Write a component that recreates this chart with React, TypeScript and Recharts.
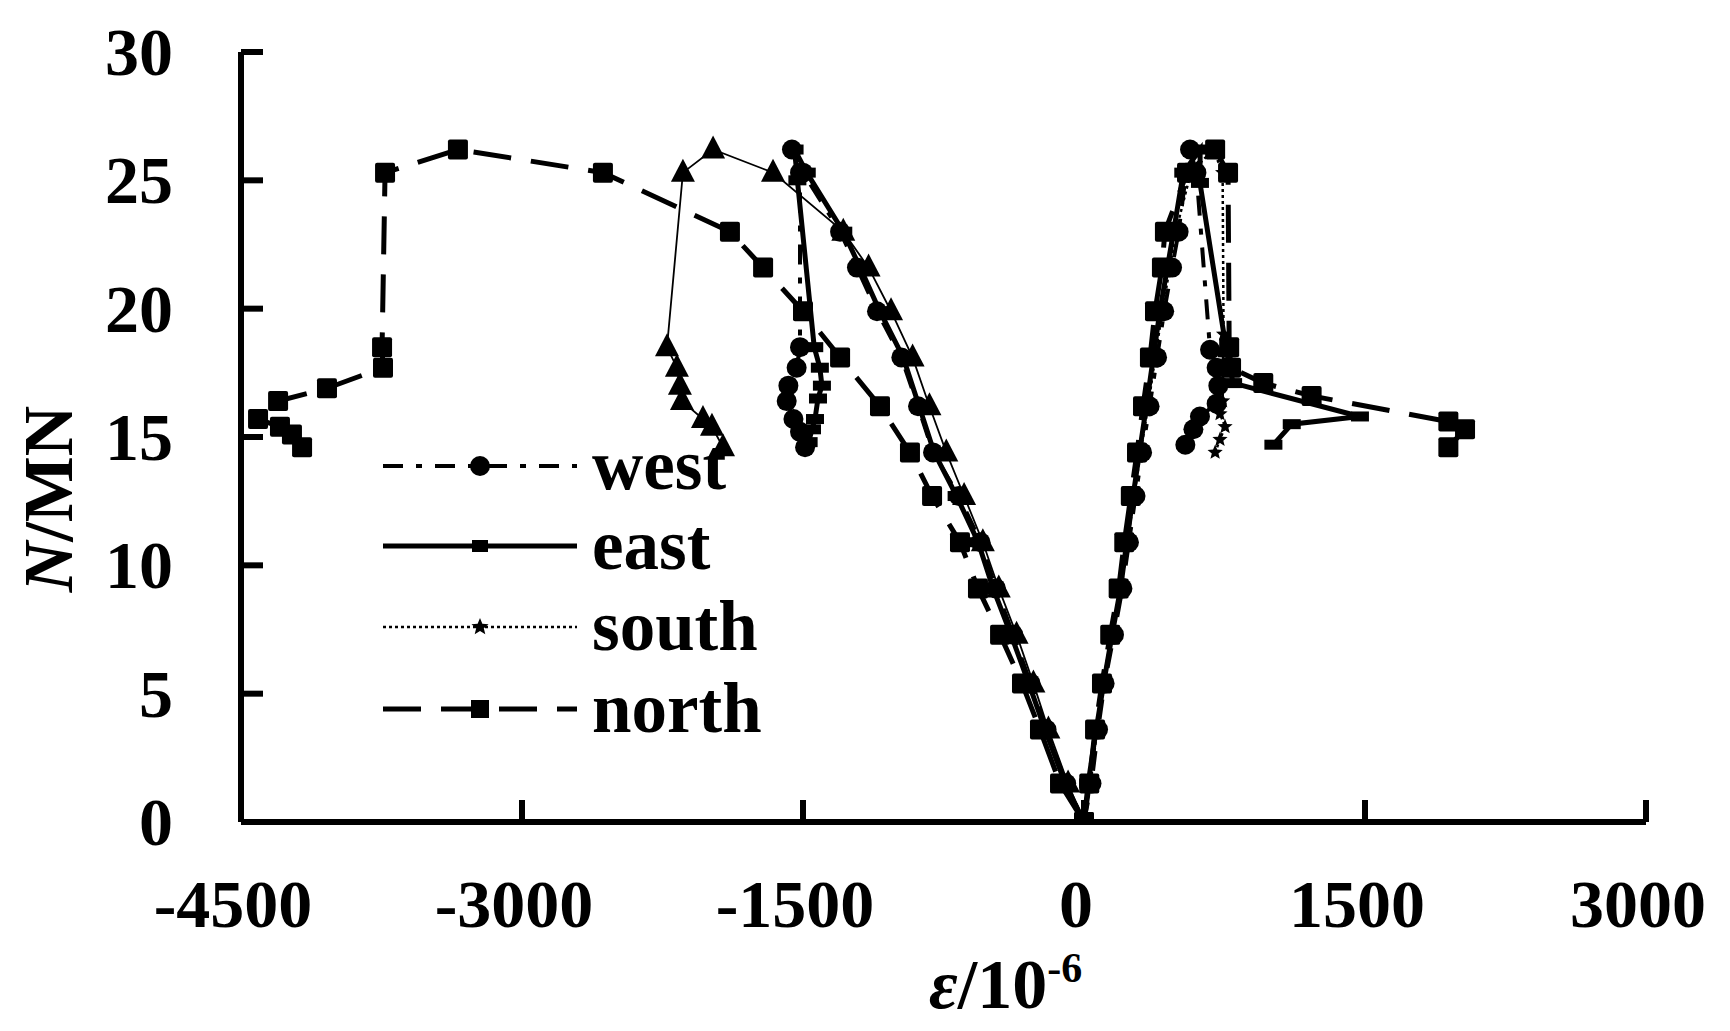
import React from 'react';
import { ScatterChart, Scatter, XAxis, YAxis } from 'recharts';

// ---------- data (N in MN, strain in 10^-6) ----------
const X_TICKS = [-4500, -3000, -1500, 0, 1500, 3000];
const Y_TICKS = [0, 5, 10, 15, 20, 25, 30];

const LOAD_PRE = [0, 1.5, 3.6, 5.4, 7.3, 9.1, 10.9, 12.7, 14.4, 16.2, 18.1, 19.9, 21.6, 23.0, 25.3, 26.2];

// left branch (compressive strain)
const northLeftPre = [0, -128, -235, -331, -448, -566, -662, -811, -929, -1089, -1302, -1500, -1713, -1890, -2568, -3342];
const northLeftPostLoad = [25.3, 18.5, 17.7, 16.9, 16.4, 15.7, 15.4, 15.1, 14.6];
const northLeftPost = [-3731, -3747, -3742, -4041, -4302, -4409, -4292, -4228, -4174];

const westLeftPre = [0, -95, -200, -285, -378, -470, -552, -668, -806, -886, -975, -1105, -1212, -1302, -1500, -1559];
const westLeftPostLoad = [25.3, 18.5, 17.7, 17.0, 16.4, 15.7, 15.2, 14.6];
const westLeftPost = [-1516, -1516, -1534, -1578, -1587, -1551, -1516, -1489];

const eastLeftPre = [0, -100, -208, -295, -390, -485, -565, -680, -800, -880, -965, -1090, -1195, -1285, -1480, -1545];
const eastLeftPostLoad = [25.0, 18.5, 17.7, 17.0, 16.5, 15.7, 15.3, 14.8];
const eastLeftPost = [-1530, -1440, -1410, -1399, -1420, -1436, -1452, -1470];

const southLeftPre = [0, -85, -190, -270, -360, -455, -540, -640, -735, -825, -915, -1030, -1150, -1285, -1660, -1980];
const southLeftPostLoad = [25.3, 18.5, 17.7, 17.0, 16.4, 15.7, 15.4, 14.6];
const southLeftPost = [-2141, -2226, -2173, -2157, -2146, -2034, -1986, -1927];

// right branch (tensile strain)
const northRightPre = [0, 28, 59, 96, 140, 185, 215, 250, 283, 315, 352, 379, 416, 432, 550, 700];
const northRightPostLoad = [25.3, 18.5, 17.7, 17.1, 16.6, 15.6, 15.3, 14.6];
const northRightPost = [769, 775, 785, 957, 1215, 1945, 2034, 1945];

const westRightPre = [0, 40, 75, 110, 160, 205, 240, 275, 310, 350, 390, 428, 470, 505, 545, 566];
const westRightPostLoad = [25.3, 18.4, 17.7, 17.0, 16.3, 15.8, 15.3, 14.7];
const westRightPost = [600, 673, 708, 717, 708, 619, 584, 541];

const eastRightPre = [0, 22, 65, 105, 150, 195, 228, 262, 296, 333, 370, 405, 445, 478, 530, 620];
const eastRightPostLoad = [24.9, 18.3, 17.1, 15.8, 15.5, 14.7];
const eastRightPost = [619, 762, 796, 1473, 1109, 1011];

const southRightPre = [0, 35, 70, 100, 148, 200, 232, 268, 302, 342, 380, 418, 458, 490, 570, 690];
const southRightPostLoad = [25.3, 19.0, 16.4, 15.9, 15.4, 14.9, 14.4];
const southRightPost = [740, 745, 740, 726, 753, 726, 700];

const build = (pre: number[], postLoad: number[], post: number[]) => [
  ...LOAD_PRE.map((y, i) => ({ x: pre[i], y })),
  ...postLoad.map((y, i) => ({ x: post[i], y })),
];

const northLeft = build(northLeftPre, northLeftPostLoad, northLeftPost);
const westLeft = build(westLeftPre, westLeftPostLoad, westLeftPost);
const eastLeft = build(eastLeftPre, eastLeftPostLoad, eastLeftPost);
const southLeft = build(southLeftPre, southLeftPostLoad, southLeftPost);
const northRight = build(northRightPre, northRightPostLoad, northRightPost);
const westRight = build(westRightPre, westRightPostLoad, westRightPost);
const eastRight = build(eastRightPre, eastRightPostLoad, eastRightPost);
const southRight = build(southRightPre, southRightPostLoad, southRightPost);

// ---------- styles ----------
const FONT = "'Liberation Serif', 'Times New Roman', serif";
const FS = 68;

const NORTH_LINE = { stroke: '#000', strokeWidth: 5, strokeDasharray: '38 20' };
const WEST_LINE = { stroke: '#000', strokeWidth: 4, strokeDasharray: '20 13 6 13' };
const EAST_LINE = { stroke: '#000', strokeWidth: 5 };
const SOUTH_LEFT_LINE = { stroke: '#000', strokeWidth: 1.8 };
const SOUTH_RIGHT_LINE = { stroke: '#000', strokeWidth: 2.5, strokeDasharray: '3 3' };

// ---------- marker shapes ----------
const squareShape = (props: any) => {
  const { cx, cy } = props;
  if (cx == null || cy == null) return <g />;
  return <rect x={cx - 10} y={cy - 10} width={20} height={20} rx={2} fill="#000" />;
};
const circleShape = (props: any) => {
  const { cx, cy } = props;
  if (cx == null || cy == null) return <g />;
  return <circle cx={cx} cy={cy} r={10} fill="#000" />;
};
const barShape = (props: any) => {
  const { cx, cy } = props;
  if (cx == null || cy == null) return <g />;
  return <rect x={cx - 9} y={cy - 5} width={18} height={10} fill="#000" />;
};
const triangleShape = (props: any) => {
  const { cx, cy } = props;
  if (cx == null || cy == null) return <g />;
  return <polygon points={`${cx},${cy - 14} ${cx + 12},${cy + 9} ${cx - 12},${cy + 9}`} fill="#000" />;
};
const starPoints = (cx: number, cy: number, ro: number, ri: number) => {
  const pts: string[] = [];
  for (let k = 0; k < 10; k++) {
    const r = k % 2 === 0 ? ro : ri;
    const a = -Math.PI / 2 + (k * Math.PI) / 5;
    pts.push(`${cx + r * Math.cos(a)},${cy + r * Math.sin(a)}`);
  }
  return pts.join(' ');
};
const starShape = (props: any) => {
  const { cx, cy } = props;
  if (cx == null || cy == null) return <g />;
  return <polygon points={starPoints(cx, cy, 8, 3.5)} fill="#000" />;
};

// ---------- ticks ----------
const XTick = (props: any) => {
  const { x, y, payload } = props;
  return (
    <g>
      <line x1={x} x2={x} y1={y} y2={y - 22} stroke="#000" strokeWidth={6} />
      <text x={x - 8} y={y + 105} textAnchor="middle" fontFamily={FONT} fontWeight="bold" fontSize={FS} fill="#000">
        {payload.value}
      </text>
    </g>
  );
};
const YTick = (props: any) => {
  const { x, y, payload } = props;
  return (
    <g>
      <line x1={x} x2={x + 22} y1={y} y2={y} stroke="#000" strokeWidth={6} />
      <text x={x - 68} y={y + 23} textAnchor="end" fontFamily={FONT} fontWeight="bold" fontSize={FS} fill="#000">
        {payload.value}
      </text>
    </g>
  );
};

// ---------- legend ----------
const LEGEND_ROWS = [
  { name: 'west', y: 466 },
  { name: 'east', y: 546 },
  { name: 'south', y: 627 },
  { name: 'north', y: 709 },
];

const LegendOverlay = () => {
  const x1 = 383;
  const x2 = 577;
  const mx = 480;
  return (
    <g>
      {LEGEND_ROWS.map((r) => {
        let line: any = EAST_LINE;
        let marker: React.ReactNode = null;
        if (r.name === 'west') {
          line = WEST_LINE;
          marker = <circle cx={mx} cy={r.y} r={10} fill="#000" />;
        } else if (r.name === 'east') {
          marker = <rect x={mx - 8} y={r.y - 6} width={16} height={12} fill="#000" />;
        } else if (r.name === 'south') {
          line = SOUTH_RIGHT_LINE;
          marker = <polygon points={starPoints(mx, r.y, 9, 4)} fill="#000" />;
        } else {
          line = NORTH_LINE;
          marker = <rect x={mx - 9} y={r.y - 9} width={18} height={18} fill="#000" />;
        }
        return (
          <g key={r.name}>
            <line x1={x1} x2={x2} y1={r.y} y2={r.y} {...line} />
            {marker}
            <text x={592} y={r.y + 23} fontFamily={FONT} fontWeight="bold" fontSize={71} fill="#000">
              {r.name}
            </text>
          </g>
        );
      })}
    </g>
  );
};

export default function App() {
  return (
    <div style={{ position: 'absolute', left: 0, top: 0, width: 1730, height: 1031, background: '#fff' }}>
      <ScatterChart width={1730} height={1031} margin={{ top: 52, right: 84, bottom: 109, left: 141 }}>
        <XAxis
          type="number"
          dataKey="x"
          domain={[-4500, 3000]}
          ticks={X_TICKS}
          interval={0}
          height={100}
          tickSize={0}
          tickMargin={0}
          tickLine={false}
          axisLine={{ stroke: '#000', strokeWidth: 6 }}
          tick={<XTick />}
          allowDataOverflow
        />
        <YAxis
          type="number"
          dataKey="y"
          domain={[0, 30]}
          ticks={Y_TICKS}
          interval={0}
          width={100}
          tickSize={0}
          tickMargin={0}
          tickLine={false}
          axisLine={{ stroke: '#000', strokeWidth: 6 }}
          tick={<YTick />}
          allowDataOverflow
        />
        <Scatter data={southLeft} fill="#000" line={SOUTH_LEFT_LINE} shape={triangleShape} isAnimationActive={false} />
        <Scatter data={northLeft} fill="#000" line={NORTH_LINE} shape={squareShape} isAnimationActive={false} />
        <Scatter data={westLeft} fill="#000" line={WEST_LINE} shape={circleShape} isAnimationActive={false} />
        <Scatter data={eastLeft} fill="#000" line={EAST_LINE} shape={barShape} isAnimationActive={false} />
        <Scatter data={southRight} fill="#000" line={SOUTH_RIGHT_LINE} shape={starShape} isAnimationActive={false} />
        <Scatter data={northRight} fill="#000" line={NORTH_LINE} shape={squareShape} isAnimationActive={false} />
        <Scatter data={westRight} fill="#000" line={WEST_LINE} shape={circleShape} isAnimationActive={false} />
        <Scatter data={eastRight} fill="#000" line={EAST_LINE} shape={barShape} isAnimationActive={false} />
      </ScatterChart>
      <svg
        width={1730}
        height={1031}
        style={{ position: 'absolute', left: 0, top: 0, pointerEvents: 'none' }}
      >
        <LegendOverlay />
        <text
          x={72}
          y={499}
          transform="rotate(-90, 72, 499)"
          textAnchor="middle"
          fontFamily={FONT}
          fontWeight="bold"
          fontSize={70}
          fill="#000"
        >
          <tspan fontStyle="italic">N</tspan>/MN
        </text>
        <text x={929} y={1008} fontFamily={FONT} fontWeight="bold" fontSize={70} fill="#000">
          <tspan fontStyle="italic">ε</tspan>/10
          <tspan fontSize={42} dy={-26}>-6</tspan>
        </text>
      </svg>
    </div>
  );
}
